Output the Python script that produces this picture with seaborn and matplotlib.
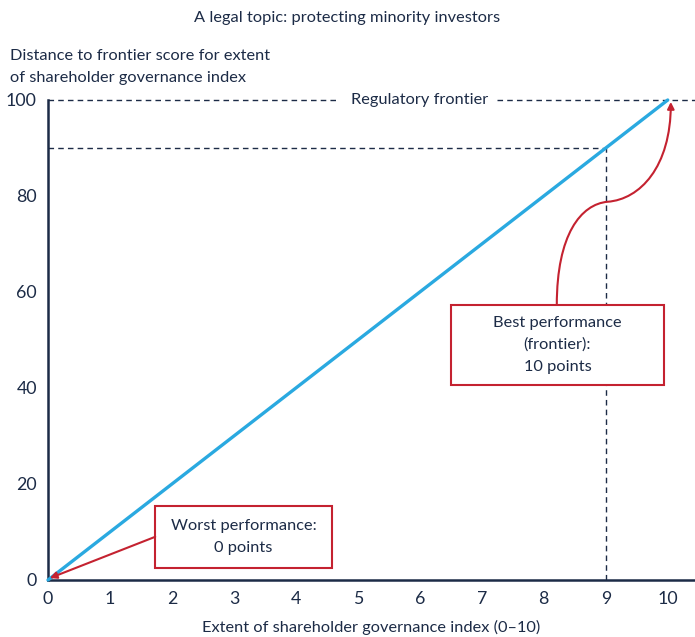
import matplotlib
matplotlib.use("Agg")
import matplotlib.pyplot as plt
import seaborn as sns
import pandas as pd
from matplotlib.path import Path
from matplotlib.patches import FancyArrowPatch, Rectangle

# ---- data ----
index_points = [0, 10]
frontier_scores = [0, 100]
x_ticks = list(range(0, 11))
y_ticks = [0, 20, 40, 60, 80, 100]
example_index = 9
example_score = 90

title = "A legal topic: protecting minority investors"
y_label = "Distance to frontier score for extent\nof shareholder governance index"
x_label = "Extent of shareholder governance index (0–10)"
frontier_label = "Regulatory frontier"
worst_label = "Worst performance:\n0 points"
best_label = "Best performance\n(frontier):\n10 points"

NAVY = "#1c2b46"
BLUE = "#2aa9e0"
RED = "#c42230"
FS = 11.8

sns.set_theme(style="white")
plt.rcParams["font.family"] = ["Lato", "DejaVu Sans"]
plt.rcParams["text.color"] = NAVY

fig = plt.figure(figsize=(6.95, 6.37), dpi=100)
ax = fig.add_axes([48 / 695, 57 / 637, (695 - 48) / 695, 480 / 637])

df = pd.DataFrame({"index": index_points, "score": frontier_scores})
sns.lineplot(data=df, x="index", y="score", ax=ax, color=BLUE, linewidth=2.4,
             clip_on=False, zorder=3)

ax.set_xlim(0, 10.44)
ax.set_ylim(0, 100)
ax.set_xticks(x_ticks)
ax.set_yticks(y_ticks)
ax.tick_params(axis="both", length=0, labelsize=12.8, colors=NAVY)
ax.tick_params(axis="x", pad=8)
ax.tick_params(axis="y", pad=8)
ax.set_xlabel(x_label, fontsize=FS, color=NAVY, labelpad=9)
ax.set_ylabel("")
for s in ["top", "right"]:
    ax.spines[s].set_visible(False)
for s in ["left", "bottom"]:
    ax.spines[s].set_color(NAVY)
    ax.spines[s].set_linewidth(1.8)

# dashed reference lines
dash = dict(color=NAVY, linewidth=1.0, linestyle=(0, (4, 3)), zorder=1)
ax.plot([0, 4.68], [100, 100], **dash, clip_on=False)
ax.plot([7.25, 10.44], [100, 100], **dash, clip_on=False)
ax.plot([0, example_index], [example_score, example_score], **dash)
ax.plot([example_index, example_index], [0, example_score], **dash)
ax.text(6.0, 100, frontier_label, ha="center", va="center", fontsize=FS, color=NAVY)

# annotation boxes
ax.add_patch(Rectangle((1.73, 2.5), 4.58 - 1.73, 15.4 - 2.5, facecolor="white",
                       edgecolor=RED, linewidth=1.5, zorder=4))
ax.text((1.73 + 4.58) / 2, 9.0, worst_label, ha="center", va="center", fontsize=FS,
        color=NAVY, linespacing=1.7, zorder=5)
ax.add_patch(Rectangle((6.5, 40.6), 9.94 - 6.5, 57.3 - 40.6, facecolor="white",
                       edgecolor=RED, linewidth=1.5, zorder=4))
ax.text((6.5 + 9.94) / 2, 49.0, best_label, ha="center", va="center", fontsize=FS,
        color=NAVY, linespacing=1.7, zorder=5)

# worst arrow
ax.annotate("", xy=(0.03, 0.4), xytext=(1.73, 9.0),
            arrowprops=dict(arrowstyle="-|>", color=RED, lw=1.5, mutation_scale=10,
                            shrinkA=0, shrinkB=0), zorder=4)

# best curved arrow
verts = [(8.21, 57.3), (8.21, 72.0), (8.6, 78.3), (9.03, 78.8),
         (9.55, 79.3), (10.05, 86.0), (10.05, 99.6)]
codes = [Path.MOVETO, Path.CURVE4, Path.CURVE4, Path.CURVE4,
         Path.CURVE4, Path.CURVE4, Path.CURVE4]
arr = FancyArrowPatch(path=Path(verts, codes), arrowstyle="-|>", color=RED, lw=1.5,
                      mutation_scale=10, clip_on=False, zorder=4)
ax.add_patch(arr)

fig.text(0.5, 1 - 18 / 637, title, ha="center", va="center", fontsize=FS, color=NAVY)
fig.text(10 / 695, 1 - 67 / 637, y_label, ha="left", va="center", fontsize=FS,
         color=NAVY, linespacing=1.7)

fig.savefig("out.png", dpi=100)
